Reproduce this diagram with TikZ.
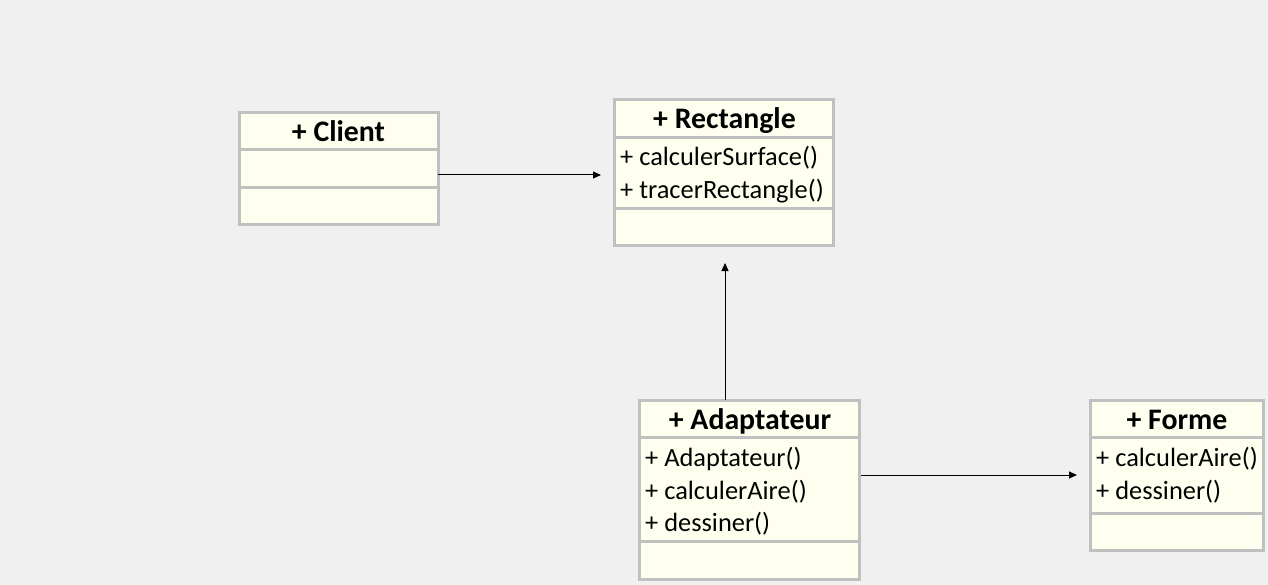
\documentclass[tikz,border=0pt]{standalone}
\usepackage{fontspec}
\setmainfont{Carlito}
\usetikzlibrary{arrows.meta}
\definecolor{bg}{HTML}{F0F0F0}
\definecolor{boxfill}{HTML}{FFFFF0}
\definecolor{boxline}{HTML}{C0C0C0}
\begin{document}
\begin{tikzpicture}[x=1pt,y=-1pt,
 comp/.style={draw=boxline, fill=boxfill, line width=3pt, inner sep=0pt, outer sep=0pt, anchor=north west},
 ctitle/.style={font=\fontsize{29.8}{34}\selectfont\bfseries, anchor=base, inner sep=0pt},
 cmeth/.style={font=\fontsize{26.4}{33}\selectfont, anchor=base west, inner sep=0pt},
 conn/.style={draw=black, line width=1pt, -{Triangle[length=8pt,width=7pt]}}]
\path[fill=bg] (0,0) rectangle (1268,585);
\useasboundingbox (0,0) rectangle (1268,585);
% Client
\node[comp, minimum width=199pt, minimum height=37pt] (clientT) at (239,113) {};
\node[comp, minimum width=199pt, minimum height=38pt] (clientA) at (239,150) {};
\node[comp, minimum width=199pt, minimum height=37pt] (clientO) at (239,188) {};
\node[ctitle] (clientL) at (338.5,142) {+ Client};
% Rectangle
\node[comp, minimum width=219pt, minimum height=38pt] (rectT) at (614,100) {};
\node[comp, minimum width=219pt, minimum height=71pt] (rectA) at (614,138) {};
\node[comp, minimum width=219pt, minimum height=37pt] (rectO) at (614,209) {};
\node[ctitle] (rectL) at (724.5,129) {+ Rectangle};
\node[cmeth] (rectM1) at (620,166) {+ calculerSurface()};
\node[cmeth] (rectM2) at (620,199) {+ tracerRectangle()};
% Adaptateur
\node[comp, minimum width=220pt, minimum height=37pt] (adaT) at (639,400) {};
\node[comp, minimum width=220pt, minimum height=104pt] (adaA) at (639,437) {};
\node[comp, minimum width=220pt, minimum height=38pt] (adaO) at (639,541) {};
\node[ctitle] (adaL) at (750,429) {+ Adaptateur};
\node[cmeth] (adaM1) at (645,466) {+ Adaptateur()};
\node[cmeth] (adaM2) at (645,499) {+ calculerAire()};
\node[cmeth] (adaM3) at (645,531) {+ dessiner()};
% Forme
\node[comp, minimum width=173pt, minimum height=37pt] (formT) at (1090,400) {};
\node[comp, minimum width=173pt, minimum height=76pt] (formA) at (1090,437) {};
\node[comp, minimum width=173pt, minimum height=37pt] (formO) at (1090,513) {};
\node[ctitle] (formL) at (1177,429) {+ Forme};
\node[cmeth] (formM1) at (1096,466) {+ calculerAire()};
\node[cmeth] (formM2) at (1096,499) {+ dessiner()};
% connectors
\coordinate (e1) at (601,175);
\coordinate (e2) at (725,263);
\coordinate (e3) at (1077,475);
\draw[conn] (clientA.east |- e1) -- (e1);
\draw[conn] (adaT.north -| e2) -- (e2);
\draw[conn] ([xshift=2pt]adaA.east |- e3) -- (e3);
\end{tikzpicture}
\end{document}
